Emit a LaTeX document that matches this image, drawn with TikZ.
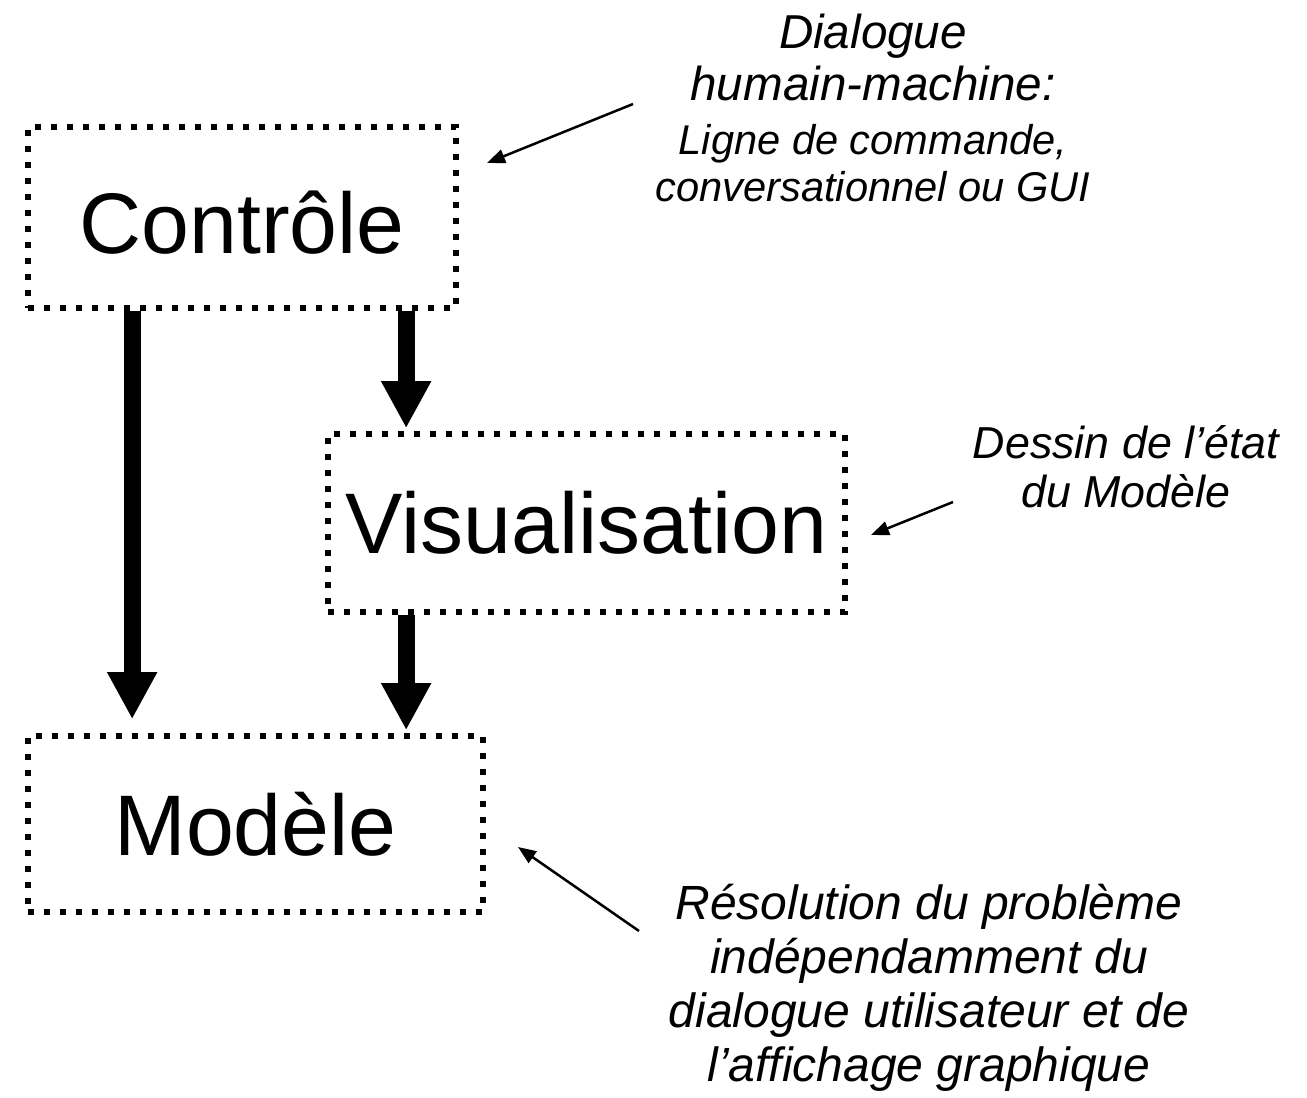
\documentclass[tikz,border=0pt]{standalone}
\usepackage{fontspec}
\setmainfont{Liberation Sans}
\usetikzlibrary{positioning,arrows.meta}

\tikzset{
  bloc/.style = {draw = black, rectangle, line width = 2.85pt, dash pattern = on 2.85pt off 5.15pt,
                 inner sep = 0pt, font = \fontsize{43}{48}\selectfont},
  fleche/.style = {line width = 8.5pt, -{Triangle[length = 23.5pt, width = 23.5pt]}},
  renvoi/.style = {line width = 1.25pt, -{Triangle[length = 9pt, width = 7pt]}},
  note/.style = {align = center, inner sep = 0pt},
}

\begin{document}
\begin{tikzpicture}[x = 0.5pt, y = -0.5pt]
        \useasboundingbox (0,0) rectangle (1307,1098) ;

        % les trois blocs
        \node [bloc, minimum width = 214pt, minimum height = 90.5pt, text height = 36pt] (controle) at (242,217.5) {Contrôle} ;
        \node [bloc, minimum width = 258.5pt, minimum height = 89pt] (visu) at (586.5,523) {Visualisation} ;
        \node [bloc, minimum width = 227.5pt, minimum height = 88pt] (modele) at (255.5,824) {Modèle} ;

        \coordinate (gauche) at ([xshift = 53.5pt]controle.south west) ;
        \coordinate (milieu) at ([xshift = 40.5pt]visu.north west) ;
        \draw [fleche, shorten >= 7pt] (gauche) -- (gauche |- modele.north) ;
        \draw [fleche, shorten >= 1.5pt] (milieu |- controle.south) -- (milieu) ;
        \draw [fleche, shorten >= 1.5pt] (milieu |- visu.south) -- (milieu |- modele.north) ;

        % commentaires
        \node [note, font = \itshape\fontsize{23.8}{26}\selectfont, anchor = north] (dialogue) at (873,13.7) {Dialogue\\humain-machine:} ;
        \node [note, font = \itshape\fontsize{20.8}{23.5}\selectfont, below = 11pt of dialogue] (ligne) {Ligne de commande,\\conversationnel ou GUI} ;
        \node [note, font = \itshape\fontsize{22.4}{24.5}\selectfont, anchor = north] (dessin) at (1126,425) {Dessin de l’état\\du Modèle} ;
        \node [note, font = \itshape\fontsize{24}{27}\selectfont, anchor = north] (resolution) at (929,884) {Résolution du problème\\indépendamment du\\dialogue utilisateur et de\\l’affichage graphique} ;

        \coordinate (r1) at (633,104) ;
        \coordinate (c1) at (487,163) ;
        \coordinate (r2) at (953,502) ;
        \coordinate (c2) at (871,535) ;
        \coordinate (r3) at (639,931) ;
        \coordinate (c3) at (518,847) ;
        \draw [renvoi] (r1) -- (c1) ;
        \draw [renvoi] (r2) -- (c2) ;
        \draw [renvoi] (r3) -- (c3) ;
\end{tikzpicture}
\end{document}
